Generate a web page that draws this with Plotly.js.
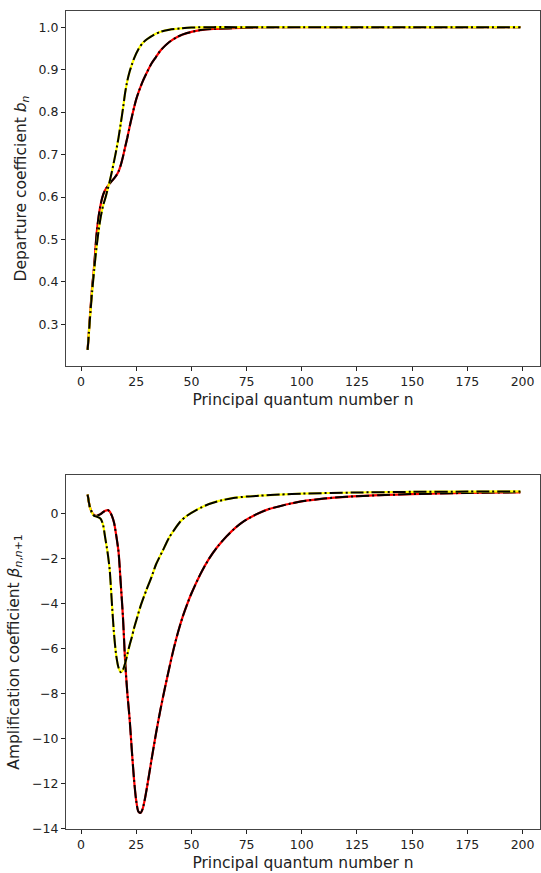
<!DOCTYPE html>
<html>
<head>
<meta charset="utf-8">
<script src="https://cdn.plot.ly/plotly-3.0.1.min.js"></script>
<style>html,body{margin:0;padding:0;background:#fff;}#chart{width:541px;height:873px;}</style>
</head>
<body>
<div id="chart"></div>
<script>
// Top panel: departure coefficient b_n
const nB1 = [3,4,5,6,7,8,9,10,11,12,13,14,15,16,17,18,19,20,21,22,23,24,26,28,30,33,36,40,45,50,60,70,80,100,125,150,175,199];
const bB1 = [0.24,0.31,0.375,0.43,0.48,0.522,0.555,0.58,0.597,0.617,0.637,0.66,0.685,0.711,0.74,0.773,0.808,0.846,0.874,0.895,0.911,0.926,0.948,0.963,0.972,0.982,0.989,0.994,0.997,0.999,1.0,1.0,1.0,1.0,1.0,1.0,1.0,1.0];
const nB2 = [3,4,5,6,7,8,9,10,11,12,13,14,15,16,17,18,19,20,21,22,23,24,25,26,27,28,30,32,34,36,40,44,48,54,60,66,75,90,120,150,175,199];
const bB2 = [0.24,0.315,0.385,0.44,0.51,0.555,0.585,0.605,0.617,0.625,0.632,0.638,0.644,0.651,0.66,0.675,0.695,0.718,0.74,0.765,0.788,0.81,0.83,0.846,0.86,0.873,0.895,0.915,0.93,0.945,0.965,0.978,0.986,0.993,0.996,0.997,0.999,1.0,1.0,1.0,1.0,1.0];

// Bottom panel: amplification coefficient beta_{n,n+1}
const nA1 = [3,4,5,6,7,8,9,10,11,12,13,14,15,16,17,18,19,20,21,22,23,24,25,27,29.5,32,34,37,40,42,45,48,52,58,64,69,75,81,90,100,125,150,175,199];
const aA1 = [0.85,0.3,0.03,-0.1,-0.13,-0.17,-0.24,-0.5,-1.1,-1.7,-2.5,-4.0,-5.4,-6.35,-6.85,-7.05,-6.95,-6.65,-6.25,-5.85,-5.5,-5.1,-4.76,-4.1,-3.42,-2.8,-2.25,-1.65,-1.05,-0.75,-0.35,-0.09,0.15,0.43,0.6,0.7,0.76,0.8,0.85,0.89,0.94,0.97,0.98,0.99];
const nA2 = [3,4,5,6,7,8,9,10,11,12,13,14,15,16,17,18,19,20,21,22,23,24,25,26,27,28,29,30,32,34,36,38,40,42,44,46,48,50,54,58,62,66,70,74,80,85,90,95,100,110,120,135,150,175,199];
const aA2 = [0.85,0.3,0.05,-0.07,-0.1,-0.06,-0.01,0.07,0.13,0.16,0.1,-0.1,-0.42,-1.0,-1.7,-3.1,-4.6,-6.6,-8.0,-9.1,-10.5,-11.8,-12.76,-13.25,-13.3,-13.1,-12.65,-12.1,-10.9,-9.75,-8.7,-7.75,-6.85,-6.0,-5.25,-4.6,-4.05,-3.55,-2.7,-2.0,-1.45,-1.0,-0.62,-0.32,0.0,0.2,0.33,0.45,0.55,0.67,0.75,0.82,0.87,0.92,0.95];

const xTitle = "Principal quantum number n";
const yTitleTop = "Departure coefficient <i>b</i><sub><i>n</i></sub>";
const yTitleBot = "Amplification coefficient <i>β</i><sub><i>n</i>,<i>n</i>+1</sub>";

const dashBlack = "13px,3px,2px,3px";
function pair(x, y, col, xa, ya) {
  return [
    {x: x, y: y, xaxis: xa, yaxis: ya, mode: "lines", line: {color: col, width: 2.2, shape: "spline", smoothing: 0.7}, hoverinfo: "skip"},
    {x: x, y: y, xaxis: xa, yaxis: ya, mode: "lines", line: {color: "black", width: 2, dash: dashBlack, shape: "spline", smoothing: 0.7}, hoverinfo: "skip"}
  ];
}
const data = [].concat(
  pair(nB2, bB2, "red", "x", "y"),
  pair(nB1, bB1, "yellow", "x", "y"),
  pair(nA2, aA2, "red", "x2", "y2"),
  pair(nA1, aA1, "yellow", "x2", "y2")
);

const fontFam = "DejaVu Sans, sans-serif";
const axBase = {
  showline: true, mirror: true, linecolor: "#444", linewidth: 1,
  ticks: "outside", ticklen: 4, tickwidth: 1, tickcolor: "#222",
  showgrid: false, zeroline: false,
  tickfont: {family: fontFam, size: 12.5, color: "#222"}
};
const xTicks = [0,25,50,75,100,125,150,175,200];
const layout = {
  width: 541, height: 873,
  margin: {l: 66, r: 1, t: 11, b: 44},
  paper_bgcolor: "#fff", plot_bgcolor: "#fff",
  showlegend: false,
  font: {family: fontFam, color: "#222"},
  xaxis: Object.assign({}, axBase, {anchor: "y", domain: [0,1], range: [-6.8, 207.9], tickvals: xTicks,
    title: {text: xTitle, font: {family: fontFam, size: 15.5, color: "#222"}, standoff: 6}}),
  yaxis: Object.assign({}, axBase, {anchor: "x", domain: [0.566, 1], range: [0.202, 1.038], tickvals: [0.3,0.4,0.5,0.6,0.7,0.8,0.9,1.0], ticktext: ["0.3","0.4","0.5","0.6","0.7","0.8","0.9","1.0"],
    title: {text: yTitleTop, font: {family: fontFam, size: 15.5, color: "#222"}, standoff: 8}}),
  xaxis2: Object.assign({}, axBase, {anchor: "y2", domain: [0,1], range: [-6.8, 207.9], tickvals: xTicks,
    title: {text: xTitle, font: {family: fontFam, size: 15.5, color: "#222"}, standoff: 6}}),
  yaxis2: Object.assign({}, axBase, {anchor: "x2", domain: [0, 0.4328], range: [-14.02, 1.72], tickvals: [-14,-12,-10,-8,-6,-4,-2,0],
    title: {text: yTitleBot, font: {family: fontFam, size: 15.5, color: "#222"}, standoff: 8}})
};
Plotly.newPlot("chart", data, layout, {staticPlot: true, displayModeBar: false});
</script>
</body>
</html>
